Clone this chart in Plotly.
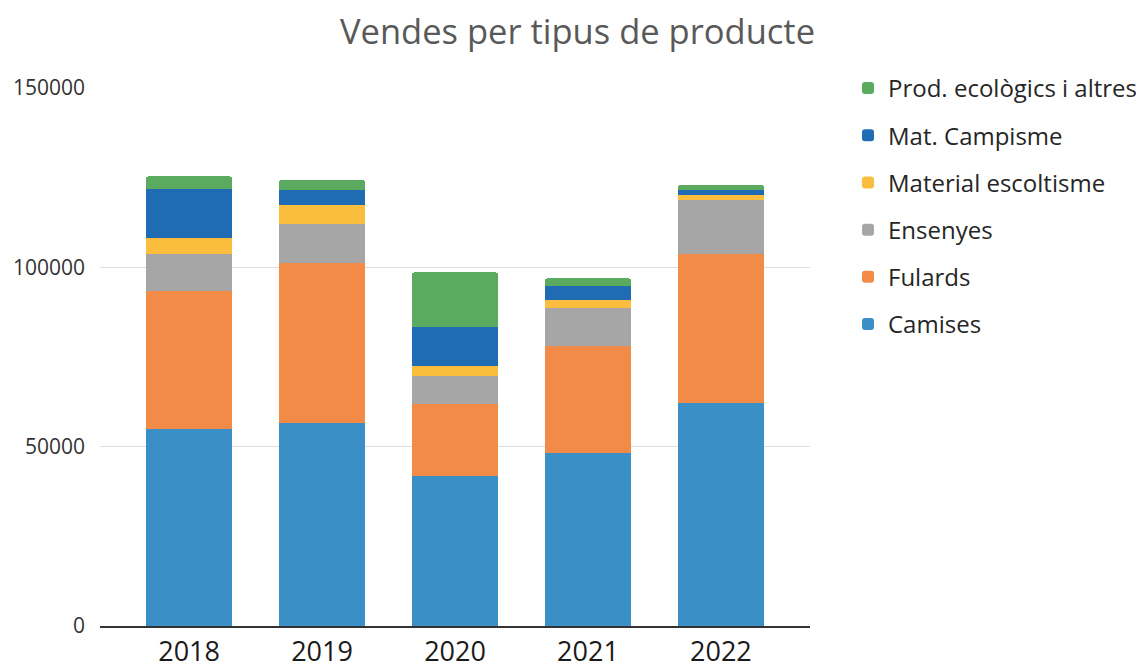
import plotly.graph_objects as go

# Dades llegides del gràfic
anys = ['2018', '2019', '2020', '2021', '2022']

camises = [54800, 56650, 41800, 48100, 62200]
fulards = [38500, 44670, 20000, 30000, 41600]
ensenyes = [10500, 10680, 7900, 10700, 15100]
material_escoltisme = [4500, 5480, 2800, 2200, 1300]
mat_campisme = [13500, 4000, 10800, 3800, 1400]
prod_ecologics = [3550, 2800, 15300, 2100, 1400]

series = [
    ('Camises', camises, '#3b8fc7'),
    ('Fulards', fulards, '#f28a48'),
    ('Ensenyes', ensenyes, '#a6a6a6'),
    ('Material escoltisme', material_escoltisme, '#fbbd3d'),
    ('Mat. Campisme', mat_campisme, '#1f6cb4'),
    ('Prod. ecològics i altres', prod_ecologics, '#5aab5f'),
]

fig = go.Figure()
for i, (nom, valors, color) in enumerate(series):
    fig.add_trace(go.Bar(x=anys, y=valors, name=nom, legendgroup=nom,
                         legendrank=100 - i,
                         marker=dict(color=color, line=dict(width=0)),
                         width=0.65))

# la pàgina té 8 px de marge al body, per això 1136x664
fig.update_layout(
    barmode='stack',
    barcornerradius=3,
    width=1136, height=664,
    margin=dict(l=92, r=334, t=80, b=46, autoexpand=False),
    paper_bgcolor='white', plot_bgcolor='white',
    font=dict(family='Open Sans, sans-serif', color='#404040'),
    title=dict(text='Vendes per tipus de producte', x=569.5 / 1136, xanchor='center',
               y=1 - 24 / 664, yanchor='middle',
               font=dict(size=34.5, color='#595959')),
    legend=dict(x=(840 - 92) / 710, xanchor='left', y=1.041, yanchor='top',
                traceorder='grouped', tracegroupgap=13,
                font=dict(size=24, color='#262626'), itemwidth=30),
    showlegend=True,
)

fig.update_xaxes(range=[-0.67, 4.67], showline=True, linecolor='#333333',
                 linewidth=1.5, showgrid=False, automargin=False,
                 ticklabelstandoff=1,
                 tickfont=dict(size=27, color='#1a1a1a'))
fig.update_yaxes(range=[0, 150000], tickvals=[0, 50000, 100000, 150000],
                 ticktext=['0', '50000', '100000', '150000'],
                 showgrid=True, gridcolor='#dedede', gridwidth=1,
                 zeroline=False, ticklabelstandoff=14, automargin=False,
                 tickfont=dict(size=21, color='#333333'))

fig.write_html("out.html")
